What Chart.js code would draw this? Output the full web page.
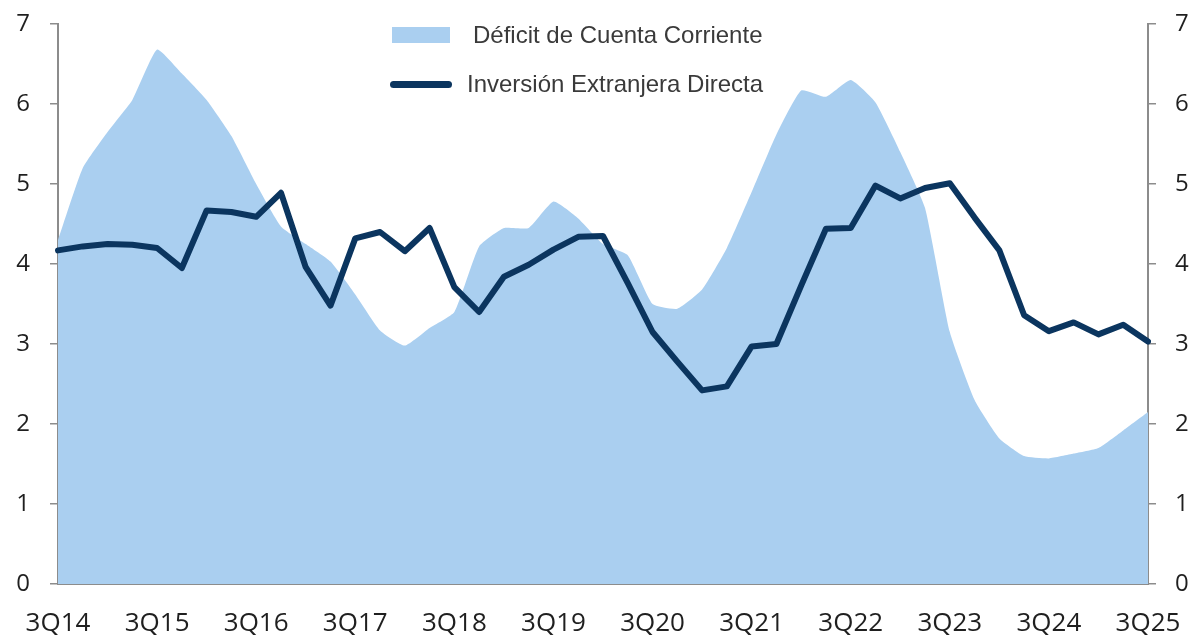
<!DOCTYPE html>
<html lang="es">
<head>
    <meta charset="UTF-8">
    <title>Déficit de Cuenta Corriente e Inversión Extranjera Directa</title>
    <script src="https://cdn.jsdelivr.net/npm/chart.js"></script>
    <style>
        html, body {
            margin: 0;
            padding: 0;
            background: #ffffff;
        }
        .wrap {
            position: relative;
            width: 1195px;
            height: 637px;
        }
        .legend {
            position: absolute;
            top: 0;
            left: 0;
            font-family: "Liberation Sans", Arial, sans-serif;
            font-size: 24px;
            color: #3a3a3a;
            white-space: nowrap;
        }
        .legend .row {
            position: absolute;
            display: flex;
            align-items: center;
            height: 34px;
        }
        .swatch-area {
            width: 58px;
            height: 16px;
            background: #aacff0;
        }
        .swatch-line {
            width: 62px;
            height: 7px;
            border-radius: 4px;
            background: #0b355f;
        }
    </style>
</head>
<body>
    <div class="wrap">
        <canvas id="chart"></canvas>
        <div class="legend">
            <div class="row" style="left:392px; top:18px;">
                <span class="swatch-area"></span>
                <span style="margin-left:23px;">Déficit de Cuenta Corriente</span>
            </div>
            <div class="row" style="left:390px; top:67px;">
                <span class="swatch-line"></span>
                <span style="margin-left:15px;">Inversión Extranjera Directa</span>
            </div>
        </div>
    </div>

    <script>
        // quarters 3Q14 .. 3Q25
        const quarters = [
            '3Q14', '4Q14', '1Q15', '2Q15', '3Q15', '4Q15', '1Q16', '2Q16',
            '3Q16', '4Q16', '1Q17', '2Q17', '3Q17', '4Q17', '1Q18', '2Q18',
            '3Q18', '4Q18', '1Q19', '2Q19', '3Q19', '4Q19', '1Q20', '2Q20',
            '3Q20', '4Q20', '1Q21', '2Q21', '3Q21', '4Q21', '1Q22', '2Q22',
            '3Q22', '4Q22', '1Q23', '2Q23', '3Q23', '4Q23', '1Q24', '2Q24',
            '3Q24', '4Q24', '1Q25', '2Q25', '3Q25'
        ];

        // Déficit de Cuenta Corriente (% PIB)
        const deficitCC = [
            4.30, 5.20, 5.65, 6.05, 6.68, 6.38, 6.05, 5.60,
            5.00, 4.47, 4.25, 4.03, 3.62, 3.17, 2.98, 3.20,
            3.40, 4.22, 4.45, 4.45, 4.78, 4.57, 4.25, 4.11,
            3.50, 3.44, 3.68, 4.20, 4.90, 5.62, 6.17, 6.09,
            6.30, 6.02, 5.40, 4.70, 3.15, 2.30, 1.82, 1.60,
            1.57, 1.63, 1.70, 1.92, 2.15
        ];

        // Inversión Extranjera Directa (% PIB)
        const ied = [
            4.17, 4.22, 4.25, 4.24, 4.20, 3.95, 4.67, 4.65,
            4.59, 4.89, 3.96, 3.48, 4.32, 4.40, 4.16, 4.45,
            3.71, 3.40, 3.84, 3.99, 4.18, 4.34, 4.35, 3.76,
            3.15, 2.78, 2.42, 2.47, 2.97, 3.00, 3.73, 4.44,
            4.45, 4.98, 4.82, 4.95, 5.01, 4.58, 4.17, 3.36,
            3.16, 3.27, 3.12, 3.24, 3.03
        ];

        const yTicks = [0, 1, 2, 3, 4, 5, 6, 7];

        const axisGray = '#8c8c8c';
        const fontFamily = '"Open Sans", "Noto Sans", sans-serif';

        function yAxis(position, pad, width) {
            return {
                position: position,
                min: yTicks[0],
                max: yTicks[yTicks.length - 1],
                afterBuildTicks: (scale) => {
                    scale.ticks = yTicks.map(v => ({ value: v }));
                },
                afterFit: (scale) => {
                    scale.width = width;
                    // keep the tick padding from pushing the plot down
                    scale.paddingTop = 0;
                    scale.paddingBottom = 0;
                },
                border: { display: true, color: axisGray, width: 2 },
                grid: {
                    drawOnChartArea: false,
                    drawTicks: true,
                    tickLength: 8,
                    color: axisGray,
                    lineWidth: 1.5
                },
                ticks: {
                    padding: pad,
                    color: '#1f1f1f',
                    font: { family: fontFamily, size: 24 }
                }
            };
        }

        new Chart(document.getElementById('chart'), {
            type: 'line',
            data: {
                labels: quarters,
                datasets: [
                    {
                        label: 'Inversión Extranjera Directa',
                        data: ied,
                        borderColor: '#0b355f',
                        borderWidth: 6,
                        borderJoinStyle: 'round',
                        borderCapStyle: 'round',
                        pointRadius: 0,
                        tension: 0,
                        fill: false,
                        yAxisID: 'y',
                        order: 0
                    },
                    {
                        label: 'Déficit de Cuenta Corriente',
                        data: deficitCC,
                        borderWidth: 0,
                        borderColor: 'rgba(0,0,0,0)',
                        backgroundColor: '#aacff0',
                        pointRadius: 0,
                        tension: 0.15,
                        fill: 'origin',
                        yAxisID: 'y',
                        order: 1
                    }
                ]
            },
            options: {
                responsive: true,
                maintainAspectRatio: false,
                animation: false,
                layout: {
                    padding: { top: 24, left: 0, right: 0, bottom: 0 }
                },
                scales: {
                    x: {
                        offset: false,
                        afterFit: (scale) => {
                            scale.height = 53;
                            scale.paddingLeft = 0;
                            scale.paddingRight = 0;
                        },
                        border: { display: true, color: axisGray, width: 2 },
                        grid: { display: false, drawTicks: false },
                        ticks: {
                            autoSkip: false,
                            maxRotation: 0,
                            padding: 24,
                            color: '#1f1f1f',
                            font: { family: fontFamily, size: 26 },
                            callback: function (val, i) {
                                return i % 4 === 0 ? quarters[i] : '';
                            }
                        }
                    },
                    y: yAxis('left', 20, 58),
                    y2: yAxis('right', 19, 47)
                },
                plugins: {
                    legend: { display: false },
                    tooltip: { enabled: false }
                }
            }
        });
    </script>
</body>
</html>
